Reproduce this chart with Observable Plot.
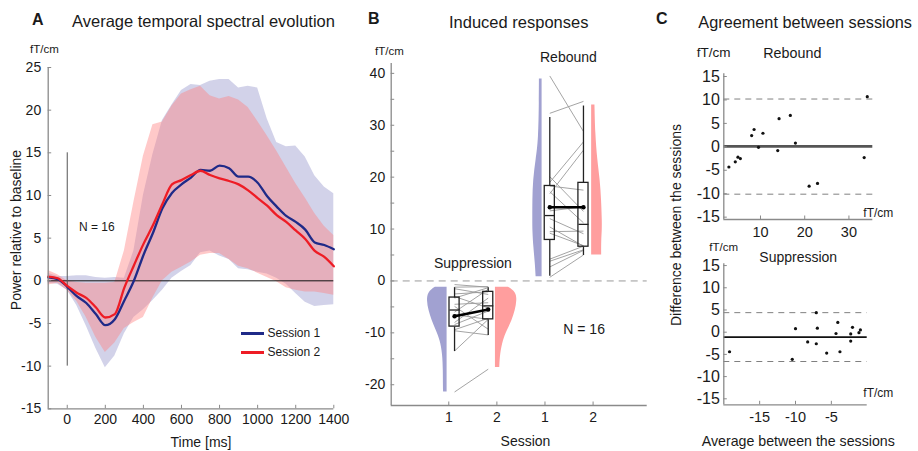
<!DOCTYPE html>
<html><head><meta charset="utf-8">
<script src="https://cdn.jsdelivr.net/npm/d3@7"></script>
<script src="https://cdn.jsdelivr.net/npm/@observablehq/plot@0.6"></script>
<style>
body{margin:0;background:#fff;font-family:"Liberation Sans",Arial,sans-serif;}
#fig{position:relative;width:918px;height:451px;overflow:hidden;background:#fff;}
.t{position:absolute;white-space:nowrap;color:#1a1a1a;line-height:1;}
.p{position:absolute;}
.p svg{display:block;}
</style></head><body><div id="fig"></div>
<script>
// ---------- Panel A data ----------
const timeMs = [-100,-50,0,50,100,150,200,250,300,350,400,450,500,550,600,650,700,750,800,850,900,950,1000,1050,1100,1150,1200,1250,1300,1350,1400];
const session1Mean  = [0.4,0.2,-0.7,-1.8,-2.6,-3.9,-5.2,-4.5,-2.3,0.0,3.0,5.6,8.5,10.3,11.3,12.1,13.0,12.9,13.5,13.2,12.2,12.2,11.5,9.9,8.7,7.6,6.9,6.0,4.5,4.2,3.7];
const session2Mean  = [0.5,0.3,-0.6,-1.4,-2.0,-3.1,-4.3,-3.9,-0.8,1.8,4.3,6.5,9.0,11.3,11.8,12.4,12.9,12.4,12.0,11.7,11.3,10.6,9.7,8.8,7.7,6.9,5.9,4.9,3.5,2.8,1.7];
const session1Upper = [0.9,0.5,0.5,0.6,0.6,0.4,0.3,0.4,0.3,3.5,10.0,14.8,18.8,20.6,22.3,23.0,22.9,23.4,23.6,23.6,22.6,22.8,22.6,19.0,16.2,15.7,15.8,14.5,12.3,11.0,10.2];
const session1Lower = [-0.3,-0.4,-1.1,-2.9,-5.3,-7.9,-10.2,-8.8,-6.2,-4.3,-3.4,-2.3,-1.1,0.3,1.1,1.8,3.3,3.5,2.9,2.5,1.4,1.3,1.0,0.8,0.3,-0.4,-1.5,-2.5,-3.0,-2.9,-2.8];
const session2Upper = [1.2,0.7,0.0,-0.2,-0.3,-0.3,-0.3,-0.2,3.5,9.2,14.6,18.3,18.6,20.5,21.9,22.4,22.8,21.7,21.3,21.6,21.2,20.3,18.7,17.0,15.2,13.3,11.4,9.7,7.9,6.4,5.3];
const session2Lower = [-0.5,-0.3,-1.1,-2.4,-4.3,-6.6,-8.4,-7.3,-5.6,-4.9,-4.3,-2.0,0.0,1.0,1.6,2.2,3.0,3.2,3.2,2.5,1.7,1.4,0.9,0.4,-0.1,-0.8,-1.1,-1.3,-1.3,-1.5,-1.7];
const onsetMarker = [{t: 0, from: 15, to: -10}];
const aXTicks = [0,200,400,600,800,1000,1200,1400];
const aYTicks = [-15,-10,-5,0,5,10,15,20,25];

// ---------- Panel B / C data (16 subjects) ----------
const reboundS1 = [0.7,2.7,3.8,4.2,9.2,10.4,9.5,12.0,13.5,17.2,20.1,18.3,16.8,19.0,32.3,39.5];
const reboundS2 = [5.0,5.9,6.0,6.7,6.8,6.7,9.6,9.1,14.3,11.2,13.4,17.5,25.2,26.8,34.6,28.8];
const suppS1 = [-21.4,-9.6,-13.5,-9.4,-6.5,-8.4,-4.9,-8.0,-4.5,-3.0,-6.0,-2.5,-3.3,-1.5,-1.2,-0.7];
const suppS2 = [-17.0,-10.4,-7.4,-7.2,-7.4,-5.8,-9.3,-3.3,-4.2,-5.2,-1.6,-2.1,-1.3,-2.6,-1.1,-1.2];
// box statistics [lo, q1, median, q3, hi] for session 1 and 2
const suppBoxS1 = [-13.5,-8.8,-5.6,-3.2,-1.2];
const suppBoxS2 = [-10.4,-7.4,-4.8,-2.1,-1.2];
const rebBoxS1 = [1.0,7.9,12.6,18.3,31.6];
const rebBoxS2 = [5.0,6.6,10.9,18.9,33.8];
const suppMeans = [-6.8,-5.5];
const rebMeans = [14.2,14.2];
// violin outlines: value and relative density
const suppViolin1V = [-1.2,-2.2,-3.8,-5.7,-7.7,-9.6,-11.5,-14.1,-17.3,-20.6,-21.4];
const suppViolin1D = [11.7,19,20,18.3,15,10.7,6.7,4.3,3.7,3.7,3.5];
const suppViolin2V = [-1.2,-2.2,-3.8,-5.7,-7.7,-9.6,-11.5,-14.1,-16.7];
const suppViolin2D = [13,21,21.7,20,16.7,11.7,7.7,5,4.3];
const rebViolin1V = [38.9,34.9,27.1,23.3,19.4,15.5,11.7,9.7,6.5,3.3,0.8];
const rebViolin1D = [2.7,2.7,3.3,6,8.7,9.3,9.3,9.3,8.3,6.7,6];
const rebViolin2V = [33.9,28.4,23.3,19.4,15.5,11.7,9.7,7.8,5.2,5.0];
const rebViolin2D = [3.3,4,6,8.7,10,10.7,10.7,10,10,10];
const bYTicksMajor = [-20,-10,0,10,20,30,40];
const bYTicksAll = [-20,-15,-10,-5,0,5,10,15,20,25,30,35,40];
const bTickPos = [1,2,3,4];
const bTickLabels = ["1","2","1","2"];
// Bland-Altman lines [rebound, suppression]
const baMeanDiff = [0.1,-1.1];
const baUpper = [10.2,4.4];
const baLower = [-10.1,-6.6];
const cYTicks = [-15,-10,-5,0,5,10,15];
const cTopXTicks = [10,20,30];
const cBotXTicks = [-15,-10,-5];

// ---------- helpers ----------
const fig = document.getElementById("fig");
const FONT = "'Liberation Sans', Arial, Helvetica, sans-serif";
function label(txt, x, y, size, opt = {}) {
  const d = document.createElement("div");
  d.className = "t";
  d.textContent = txt;
  d.style.left = x + "px"; d.style.top = y + "px"; d.style.fontSize = size + "px";
  const ax = opt.anchor === "middle" ? "-50%" : opt.anchor === "end" ? "-100%" : "0";
  d.style.transform = `translate(${ax},-50%)` + (opt.rotate ? ` rotate(${opt.rotate}deg)` : "");
  if (opt.bold) d.style.fontWeight = "bold";
  fig.appendChild(d);
}
function mount(svg, left, top) {
  const w = document.createElement("div");
  w.className = "p"; w.style.left = left + "px"; w.style.top = top + "px";
  w.appendChild(svg); fig.appendChild(w);
}
const baseStyle = (fs) => ({background: "transparent", fontFamily: FONT, fontSize: fs + "px", color: "#1a1a1a", overflow: "visible"});
const fmt = d => String(d);
const AXIS = "#8a8a8a";

// ---------- Panel A ----------
{
  const W = 350, H = 410, mL = 47.7, mR = 16.7, mT = 27, mB = 41.7;
  const fw = W - mL - mR, fh = H - mT - mB;
  const xd = [-100, 1400], yd = [-15, 25];
  const rows = timeMs.map((t, i) => ({t, m1: session1Mean[i], m2: session2Mean[i],
    lo1: session1Lower[i], hi1: session1Upper[i], lo2: session2Lower[i], hi2: session2Upper[i]}));
  const p = Plot.plot({
    width: W, height: H, marginLeft: mL, marginRight: mR, marginTop: mT, marginBottom: mB,
    style: baseStyle(14),
    x: {domain: xd}, y: {domain: yd},
    marks: [
      Plot.areaY(rows, {x: "t", y1: "lo1", y2: "hi1", fill: "#8f8fc8", fillOpacity: 0.4}),
      Plot.areaY(rows, {x: "t", y1: "lo2", y2: "hi2", fill: "#ff7f7f", fillOpacity: 0.42}),
      Plot.ruleY([0], {stroke: "#111", strokeWidth: 1}),
      Plot.ruleX(onsetMarker, {x: "t", y1: "from", y2: "to", stroke: "#555", strokeWidth: 1}),
      Plot.lineY(rows, {x: "t", y: "m1", stroke: "#1f2a88", strokeWidth: 2.3, curve: "monotone-x"}),
      Plot.lineY(rows, {x: "t", y: "m2", stroke: "#ee1c25", strokeWidth: 2.3, curve: "monotone-x"}),
      Plot.ruleX([xd[0]], {stroke: AXIS, strokeWidth: 1.3}),
      Plot.ruleY([yd[0]], {stroke: AXIS, strokeWidth: 1.3}),
      Plot.tickY(aYTicks, {y: d => d, stroke: AXIS, insetRight: fw - 3.5}),
      Plot.tickX(aXTicks, {x: d => d, stroke: AXIS, insetTop: fh - 3.5}),
      Plot.axisY(aYTicks, {tickSize: 0, tickPadding: 7, label: null, tickFormat: fmt}),
      Plot.axisX(aXTicks, {tickSize: 0, tickPadding: 5, label: null, tickFormat: fmt})
    ]
  });
  mount(p, 0, 40);
}

// ---------- Panel B ----------
{
  const W = 300, H = 410, mL = 30.7, mR = 13.3, mT = 23, mB = 45;
  const fw = W - mL - mR, fh = H - mT - mB;
  const xd = [-0.197, 5.125], yd = [-24, 41.9];
  const k = 1 / 48.1;     // density → x units
  const hw = 0.105;       // half box width
  const pos = {s1: 1.12, s2: 1.82, r1: 3.10, r2: 3.80};
  const flat = {s1: 0.965, s2: 1.97, r1: 2.94, r2: 3.97};
  const vio = (V, D, base, dir) => V.map((v, i) => ({v, a: base, b: base + dir * D[i] * k}));
  const box = (s, x) => ({x, lo: s[0], q1: s[1], med: s[2], q3: s[3], hi: s[4]});
  const boxes = [box(suppBoxS1, pos.s1), box(suppBoxS2, pos.s2), box(rebBoxS1, pos.r1), box(rebBoxS2, pos.r2)];
  const links = [
    ...suppS1.map((v, i) => ({x1: pos.s1, x2: pos.s2, y1: v, y2: suppS2[i]})),
    ...reboundS1.map((v, i) => ({x1: pos.r1, x2: pos.r2, y1: v, y2: reboundS2[i]}))
  ];
  const means = [
    {x1: pos.s1, x2: pos.s2, y1: suppMeans[0], y2: suppMeans[1]},
    {x1: pos.r1, x2: pos.r2, y1: rebMeans[0], y2: rebMeans[1]}
  ];
  const meanPts = means.flatMap(m => [{x: m.x1, y: m.y1}, {x: m.x2, y: m.y2}]);
  const blue = "#a1a1d1", red = "#ff9e9e";
  const p = Plot.plot({
    width: W, height: H, marginLeft: mL, marginRight: mR, marginTop: mT, marginBottom: mB,
    style: baseStyle(14),
    x: {domain: xd}, y: {domain: yd},
    marks: [
      Plot.ruleY([0], {stroke: "#999", strokeDasharray: "7,5", strokeWidth: 1}),
      Plot.areaX(vio(suppViolin1V, suppViolin1D, flat.s1, -1), {y: "v", x1: "a", x2: "b", fill: blue, curve: "basis"}),
      Plot.areaX(vio(suppViolin2V, suppViolin2D, flat.s2, 1), {y: "v", x1: "a", x2: "b", fill: red, curve: "basis"}),
      Plot.areaX(vio(rebViolin1V, rebViolin1D, flat.r1, -1), {y: "v", x1: "a", x2: "b", fill: blue, curve: "basis"}),
      Plot.areaX(vio(rebViolin2V, rebViolin2D, flat.r2, 1), {y: "v", x1: "a", x2: "b", fill: red, curve: "basis"}),
      Plot.link(links, {x1: "x1", x2: "x2", y1: "y1", y2: "y2", stroke: "#9a9a9a", strokeWidth: 0.9}),
      Plot.link(boxes, {x1: "x", x2: "x", y1: "lo", y2: "q1", stroke: "#222", strokeWidth: 1.3}),
      Plot.link(boxes, {x1: "x", x2: "x", y1: "q3", y2: "hi", stroke: "#222", strokeWidth: 1.3}),
      Plot.rect(boxes, {x1: d => d.x - hw, x2: d => d.x + hw, y1: "q1", y2: "q3", fill: "none", stroke: "#222", strokeWidth: 1.3}),
      Plot.link(boxes, {x1: d => d.x - hw, x2: d => d.x + hw, y1: "med", y2: "med", stroke: "#222", strokeWidth: 1.3}),
      Plot.link(means, {x1: "x1", x2: "x2", y1: "y1", y2: "y2", stroke: "#000", strokeWidth: 2.6}),
      Plot.dot(meanPts, {x: "x", y: "y", r: 2.2, fill: "#000"}),
      Plot.ruleX([xd[0]], {stroke: AXIS, strokeWidth: 1.3}),
      Plot.ruleY([yd[0]], {stroke: AXIS, strokeWidth: 1.3}),
      Plot.tickY(bYTicksAll, {y: d => d, stroke: AXIS, insetRight: fw - 3.5}),
      Plot.tickX(bTickPos, {x: d => d, stroke: AXIS, insetTop: fh - 3.5}),
      Plot.axisY(bYTicksMajor, {tickSize: 0, tickPadding: 6, label: null, tickFormat: fmt}),
      Plot.axisX(bTickPos, {tickSize: 0, tickPadding: 7, label: null, tickFormat: d => bTickLabels[bTickPos.indexOf(d)]})
    ]
  });
  mount(p, 360, 40);
}

// ---------- Panel C ----------
function baPlot(s1, s2, idx, W, H, mL, mR, mT, mB, xd, yd, xTicks, meanStyle) {
  const fw = W - mL - mR, fh = H - mT - mB;
  const pts = s1.map((v, i) => ({avg: (v + s2[i]) / 2, diff: v - s2[i]}));
  return Plot.plot({
    width: W, height: H, marginLeft: mL, marginRight: mR, marginTop: mT, marginBottom: mB,
    style: baseStyle(14),
    x: {domain: xd}, y: {domain: yd},
    marks: [
      Plot.ruleY([baUpper[idx], baLower[idx]], {stroke: "#808080", strokeDasharray: "6,5", strokeWidth: 1}),
      Plot.ruleY([baMeanDiff[idx]], meanStyle),
      Plot.dot(pts, {x: "avg", y: "diff", r: 1.6, fill: "#111"}),
      Plot.ruleX([xd[0]], {stroke: AXIS, strokeWidth: 1.3}),
      Plot.ruleY([yd[0]], {stroke: AXIS, strokeWidth: 1.3}),
      Plot.tickY(cYTicks, {y: d => d, stroke: AXIS, insetRight: fw - 3.5}),
      Plot.tickX(xTicks, {x: d => d, stroke: AXIS, insetTop: fh - 3.5}),
      Plot.axisY(cYTicks, {tickSize: 0, tickPadding: 4, label: null, tickFormat: fmt, fontSize: 16}),
      Plot.axisX(xTicks, {tickSize: 0, tickPadding: 7, label: null, tickFormat: fmt, fontSize: 14.5})
    ]
  });
}
mount(baPlot(reboundS1, reboundS2, 0, 228, 180, 33.3, 45.7, 13.2, 21, [1.7, 35.4], [-15.5, 15.6], cTopXTicks,
  {stroke: "#555", strokeWidth: 2.6}), 690, 60);
mount(baPlot(suppS1, suppS2, 1, 228, 200, 33.3, 51.3, 13.3, 45.7, [-20, 0], [-16.35, 15.4], cBotXTicks,
  {stroke: "#111", strokeWidth: 1.6}), 690, 250);

// ---------- Text ----------
label("A", 32, 20, 16, {bold: true});
label("Average temporal spectral evolution", 72, 21, 16.5);
label("fT/cm", 30, 50, 11.5);
label("Power relative to baseline", 16, 230, 14, {anchor: "middle", rotate: -90});
label("N = 16", 79, 226.5, 12);
label("Time [ms]", 201, 442, 14, {anchor: "middle"});
label("Session 1", 267.5, 333.3, 12);
label("Session 2", 267.5, 352.3, 12);
label("B", 368, 19, 16, {bold: true});
label("Induced responses", 449, 22, 16.5);
label("fT/cm", 375, 52, 11.5);
label("Rebound", 540, 57, 14);
label("Suppression", 434, 263.3, 14);
label("N = 16", 563.3, 329.3, 14);
label("Session", 525.5, 440.7, 14, {anchor: "middle"});
label("C", 656, 19, 16, {bold: true});
label("Agreement between sessions", 698.3, 22, 16.3);
label("fT/cm", 696.7, 53.3, 13.5);
label("Rebound", 763.3, 53.3, 14.3);
label("fT/cm", 863.3, 213.3, 12);
label("Difference between the sessions", 676, 225, 14, {anchor: "middle", rotate: -90});
label("fT/cm", 709.3, 248.3, 11.5);
label("Suppression", 759.3, 256.7, 14);
label("fT/cm", 863.3, 393.3, 12);
label("Average between the sessions", 798.3, 440.7, 14.2, {anchor: "middle"});

// legend swatches
for (const [c, y] of [["#1f2a88", 333.3], ["#ee1c25", 352.3]]) {
  const s = document.createElement("div");
  s.style.cssText = `position:absolute;left:240.7px;top:${y - 1.3}px;width:23.5px;height:2.6px;background:${c};`;
  fig.appendChild(s);
}
</script></body></html>
